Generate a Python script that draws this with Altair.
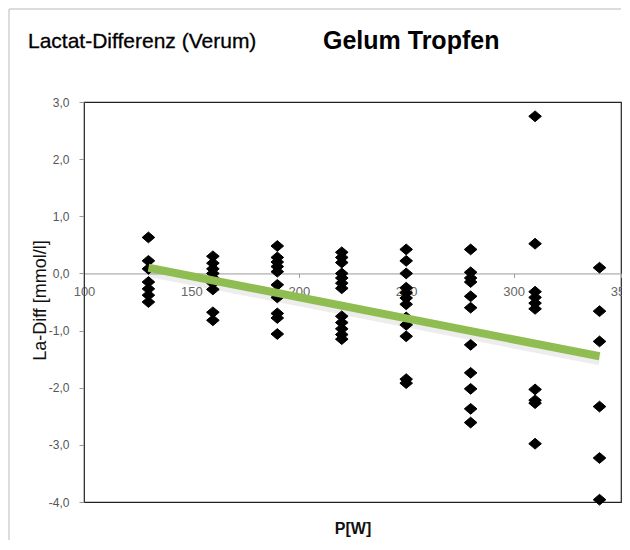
import altair as alt
import pandas as pd

# ---- data ----
power = [130, 160, 190, 220, 250, 280, 310, 340]
la_diff = [
    [0.63, 0.22, 0.08, -0.15, -0.27, -0.38, -0.5],
    [0.3, 0.18, 0.08, 0.0, -0.08, -0.17, -0.28, -0.68, -0.82],
    [0.48, 0.28, 0.2, 0.12, 0.03, -0.2, -0.42, -0.7, -0.78, -1.06],
    [0.37, 0.28, 0.19, 0.0, -0.08, -0.17, -0.26, -0.75, -0.86, -0.97, -1.07, -1.15],
    [0.42, 0.22, 0.0, -0.25, -0.34, -0.43, -0.54, -0.77, -0.9, -1.1, -1.85, -1.92],
    [0.42, 0.02, -0.08, -0.15, -0.4, -0.6, -1.25, -1.74, -2.02, -2.37, -2.61],
    [2.75, 0.52, -0.32, -0.42, -0.52, -0.62, -2.03, -2.22, -2.27, -2.98],
    [0.1, -0.66, -1.19, -2.33, -3.23, -3.96],
]
trend_p = [130, 340]
trend_y = [0.1, -1.45]
x_ticks = [100, 150, 200, 250, 300, 350]
y_ticks = [-4, -3, -2, -1, 0, 1, 2, 3]
title_left = "Lactat-Differenz (Verum)"
title_right = "Gelum Tropfen"
x_title = "P[W]"
y_title = "La-Diff [mmol/l]"

rows = [{"P": p, "LaDiff": v} for p, vals in zip(power, la_diff) for v in vals]
pts = pd.DataFrame(rows)
trend = pd.DataFrame({"P": trend_p, "LaDiff": trend_y})

W, H = 537, 400
FONT = "Liberation Sans"
zero_from_bottom = H * 4 / 7  # distance of y=0 from bottom edge
zero_from_top = H - zero_from_bottom

xscale = alt.Scale(domain=[100, 350], nice=False, zero=False)
yscale = alt.Scale(domain=[-4, 3], nice=False)

x_axis = alt.Axis(
    values=x_ticks, offset=-zero_from_bottom, grid=False,
    domainColor="#9a9a9a", domainWidth=1, tickColor="#9a9a9a", tickSize=4,
    labelColor="#666666", labelFont=FONT, labelFontSize=13, labelPadding=8,
    labelFlush=False, labelOverlap=False, labelBound=False,
    title=x_title, titleFont=FONT, titleFontSize=16, titleFontWeight="bold",
    titleColor="#111111", titleBaseline="alphabetic",
    titleY=zero_from_bottom + 31,
)
y_axis = alt.Axis(
    values=y_ticks, grid=False,
    labelExpr="replace(replace(format(datum.value, '.1f'), '.', ','), '\u2212', '-')",
    domainColor="#333333", tickColor="#999999", tickSize=5,
    labelColor="#555555", labelFont=FONT, labelFontSize=12, labelPadding=10,
    title=y_title, titleFont=FONT, titleFontSize=18, titleFontWeight="normal",
    titleColor="#111111", titleX=-44, titleY=H / 2 - 2, titleAngle=-90,
    titleAlign="center", titleBaseline="middle",
)

x_enc = alt.X("P:Q", scale=xscale, axis=x_axis)
y_enc = alt.Y("LaDiff:Q", scale=yscale, axis=y_axis)

points = alt.Chart(pts).mark_point(
    shape="M-1,0L0,-0.85L1,0L0,0.85Z", filled=True, size=160,
    color="black", opacity=1, stroke="black", strokeWidth=1, strokeJoin="round",
).encode(x=x_enc, y=y_enc)

shadow = alt.Chart(trend).mark_line(
    color="#000000", opacity=0.07, strokeWidth=8, yOffset=5, strokeCap="butt"
).encode(x=x_enc, y=y_enc)

trend_line = alt.Chart(trend).mark_line(
    color="#8fbd52", strokeWidth=8, strokeCap="butt"
).encode(x=x_enc, y=y_enc)

one = pd.DataFrame({"a": [0]})
border_left = alt.Chart(one).mark_rule(color="#d0d0d0", strokeWidth=1.5).encode(
    x=alt.value(-75), y=alt.value(-93), y2=alt.value(440)
)
border_top = alt.Chart(one).mark_rule(color="#d0d0d0", strokeWidth=1.5).encode(
    x=alt.value(-75), x2=alt.value(W), y=alt.value(-93)
)

t1 = alt.Chart(pd.DataFrame({"t": [title_left]})).mark_text(
    align="left", baseline="alphabetic", font=FONT, fontSize=21,
    color="#000000", stroke="#000000", strokeWidth=0.3,
).encode(x=alt.value(-56), y=alt.value(-54), text="t:N")
t2 = alt.Chart(pd.DataFrame({"t": [title_right]})).mark_text(
    align="left", baseline="alphabetic", font=FONT, fontSize=25,
    fontWeight="bold", color="#000000",
).encode(x=alt.value(239), y=alt.value(-53), text="t:N")

chart = alt.layer(
    border_left, border_top, points, shadow, trend_line, t1, t2
).properties(
    width=W, height=H,
    padding={"left": 76, "top": 94, "right": 1, "bottom": 38},
    autosize=alt.AutoSizeParams(type="none"),
    background="white",
).configure_view(stroke="#222222", strokeWidth=1.2)

chart.save("out.html", embed_options={"renderer": "svg", "actions": False})
